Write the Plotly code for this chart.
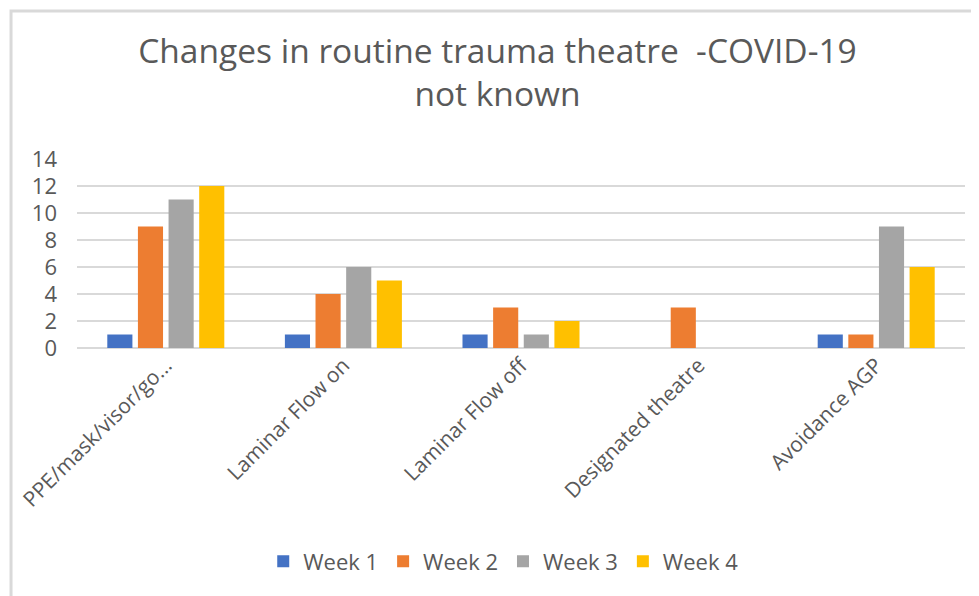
import plotly.graph_objects as go

categories = ["PPE/mask/visor/go...", "Laminar Flow on", "Laminar Flow off",
              "Designated theatre", "Avoidance AGP"]
week1 = [1, 1, 1, 0, 1]
week2 = [9, 4, 3, 3, 1]
week3 = [11, 6, 1, 0, 9]
week4 = [12, 5, 2, 0, 6]

series = [("Week 1", week1, "#4472C4"),
          ("Week 2", week2, "#ED7D31"),
          ("Week 3", week3, "#A5A5A5"),
          ("Week 4", week4, "#FFC000")]

FONT = "Open Sans"
TEXT = "#595959"

fig = go.Figure()
for name, vals, color in series:
    fig.add_trace(go.Bar(x=categories, y=vals, name=name,
                         marker=dict(color=color, line=dict(width=0))))

fig.update_layout(
    width=979, height=596,
    paper_bgcolor="white", plot_bgcolor="white",
    font=dict(family=FONT, color=TEXT),
    title=dict(text="Changes in routine trauma theatre  -COVID-19<br>not known",
               x=0.5, xanchor="center", y=0.908, yanchor="top",
               font=dict(size=33.5, color=TEXT, family=FONT)),
    barmode="group", bargap=0.31, bargroupgap=0.18,
    margin=dict(l=69, r=22, t=151, b=256, autoexpand=False),
    showlegend=True,
    legend=dict(orientation="h", x=0.48, xanchor="center", y=-1.13, yanchor="middle",
                font=dict(size=22, color=TEXT), itemwidth=30, traceorder="normal"),
    xaxis=dict(tickangle=-45, tickfont=dict(size=21, color=TEXT), showline=False,
               ticks="", showgrid=False, automargin=False),
    yaxis=dict(range=[0, 14], dtick=2, tickfont=dict(size=22, color=TEXT),
               showgrid=True, gridcolor="#d9d9d9", gridwidth=2,
               zeroline=True, zerolinecolor="#d9d9d9", zerolinewidth=2,
               ticks="", ticklabelstandoff=19, automargin=False),
    shapes=[dict(type="rect", xref="paper", yref="paper",
                 x0=-0.0743, x1=1.3, y0=-2.5, y1=1.783,
                 line=dict(color="#d9d9d9", width=3), layer="below")],
)

fig.write_html("out.html")
